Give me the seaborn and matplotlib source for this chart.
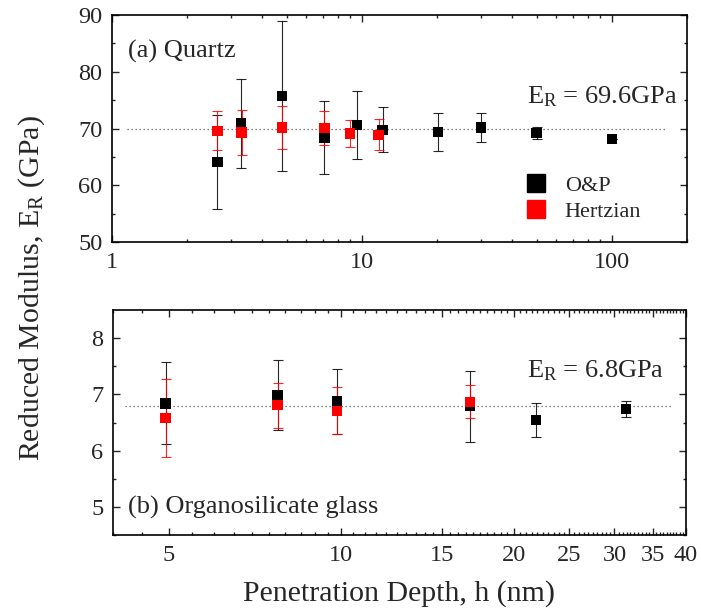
import numpy as np
import pandas as pd
import matplotlib
matplotlib.use("Agg")
import matplotlib.pyplot as plt
import seaborn as sns
from matplotlib.lines import Line2D
from matplotlib.ticker import NullFormatter

# (a) Quartz, penetration depth h (nm) and reduced modulus E_R (GPa)
quartz_op_h = [2.64, 3.29, 4.80, 7.08, 9.55, 12.1, 20.1, 30.0, 50.0, 100.0]
quartz_op_er = [64.1, 70.9, 75.7, 68.4, 70.6, 69.8, 69.4, 70.2, 69.2, 68.2]
quartz_op_err = [8.2, 7.8, 13.2, 6.5, 6.0, 4.0, 3.4, 2.6, 1.1, 0.0]
quartz_hz_h = [2.64, 3.30, 4.80, 7.08, 8.98, 11.66]
quartz_hz_er = [69.6, 69.3, 70.2, 70.1, 69.1, 68.9]
quartz_hz_err = [3.4, 4.0, 3.8, 3.0, 2.4, 2.7]

# (b) Organosilicate glass
glass_op_h = [4.94, 7.75, 9.85, 16.8, 21.9, 31.4]
glass_op_er = [6.84, 6.99, 6.88, 6.79, 6.54, 6.74]
glass_op_err = [0.73, 0.63, 0.58, 0.63, 0.30, 0.14]
glass_hz_h = [4.94, 7.75, 9.85, 16.8]
glass_hz_er = [6.58, 6.81, 6.71, 6.87]
glass_hz_err = [0.70, 0.40, 0.42, 0.29]

quartz_line = 70.0
glass_line = 6.8
quartz_label = r"E$_\mathrm{R}$ = 69.6GPa"
glass_label = r"E$_\mathrm{R}$ = 6.8GPa"

methods = ["O&P", "Hertzian"]
colors = {"O&P": "black", "Hertzian": "#ff0000"}

top_xticks = [1, 10, 100]
bot_xticks = [5, 10, 15, 20, 25, 30, 35, 40]


def make_frame(op_h, op_er, op_err, hz_h, hz_er, hz_err):
    a = pd.DataFrame({"h": op_h, "E": op_er, "err": op_err, "method": "O&P"})
    b = pd.DataFrame({"h": hz_h, "E": hz_er, "err": hz_err, "method": "Hertzian"})
    return pd.concat([a, b], ignore_index=True)


def draw_panel(ax, df, line_val, line_span):
    ax.axhline(line_val, xmin=line_span[0], xmax=line_span[1], color="#555555",
               linestyle=(0, (1, 2.2)), linewidth=0.9, zorder=1)
    for m in methods:
        d = df[df["method"] == m]
        ax.errorbar(d["h"], d["E"], yerr=d["err"], fmt="none", ecolor=colors[m],
                    elinewidth=0.8, capsize=3.5, capthick=0.8, alpha=0.85, zorder=2)
    sns.scatterplot(data=df, x="h", y="E", hue="method", palette=colors,
                    marker="s", s=55, linewidth=0, legend=False, ax=ax, zorder=3)
    ax.set_xscale("log")
    ax.set_xlabel("")
    ax.set_ylabel("")
    ax.tick_params(which="both", direction="in", top=True, right=True, width=1.0)
    ax.tick_params(which="major", length=5, labelsize=17.5, pad=7)
    ax.tick_params(which="minor", length=2.5)
    for s in ax.spines.values():
        s.set_linewidth(1.2)
        s.set_color("black")


sns.set_theme(style="ticks")
plt.rcParams["font.family"] = ["Liberation Serif", "DejaVu Serif"]
plt.rcParams["mathtext.fontset"] = "custom"
plt.rcParams["mathtext.rm"] = "Liberation Serif"
plt.rcParams["mathtext.it"] = "Liberation Serif:italic"

fig = plt.figure(figsize=(7.01, 6.13), dpi=100)
ax1 = fig.add_axes([0.1598, 0.6052, 0.8202, 0.3703])
ax2 = fig.add_axes([0.1612, 0.1272, 0.8174, 0.3671])

# top panel
quartz = make_frame(quartz_op_h, quartz_op_er, quartz_op_err,
                    quartz_hz_h, quartz_hz_er, quartz_hz_err)
draw_panel(ax1, quartz, quartz_line, (0.026, 0.965))
ax1.set_xlim(1, 200)
ax1.set_ylim(50, 90)
ax1.set_xticks(top_xticks, [str(t) for t in top_xticks])
ax1.set_yticks(np.arange(50, 91, 10))
ax1.set_yticks(np.arange(55, 90, 10), minor=True)
ax1.text(0.028, 0.814, "(a) Quartz", transform=ax1.transAxes, fontsize=19, va="baseline")
ax1.text(0.722, 0.611, quartz_label, transform=ax1.transAxes, fontsize=19, va="baseline")

handles = [Line2D([], [], marker="s", linestyle="none", markersize=13,
                  markerfacecolor=colors[m], markeredgecolor=colors[m]) for m in methods]
ax1.legend(handles, methods, loc="center left", bbox_to_anchor=(0.683, 0.19),
           frameon=False, fontsize=16, handlelength=1.0, handletextpad=0.8,
           labelspacing=0.25)

# bottom panel
glass = make_frame(glass_op_h, glass_op_er, glass_op_err,
                   glass_hz_h, glass_hz_er, glass_hz_err)
draw_panel(ax2, glass, glass_line, (0.021, 0.977))
ax2.set_xlim(4, 40)
ax2.set_ylim(4.5, 8.5)
minor = [v for v in np.arange(4.0, 40.01, 0.5) if v not in bot_xticks]
ax2.set_xticks(bot_xticks, [str(t) for t in bot_xticks])
ax2.set_xticks(minor, minor=True)
ax2.xaxis.set_minor_formatter(NullFormatter())
ax2.set_yticks([5, 6, 7, 8])
ax2.set_yticks([4.5, 5.5, 6.5, 7.5], minor=True)
ax2.text(0.026, 0.0964, "(b) Organosilicate glass", transform=ax2.transAxes,
         fontsize=19, va="baseline")
ax2.text(0.7225, 0.701, glass_label, transform=ax2.transAxes, fontsize=19, va="baseline")

ax2.set_xlabel("Penetration Depth, h (nm)", fontsize=21.5, labelpad=10)
fig.text(0.045, 0.53, r"Reduced Modulus, E$_\mathrm{R}$ (GPa)", rotation=90,
         fontsize=21.5, ha="center", va="center")

fig.savefig("out.png", dpi=100)
